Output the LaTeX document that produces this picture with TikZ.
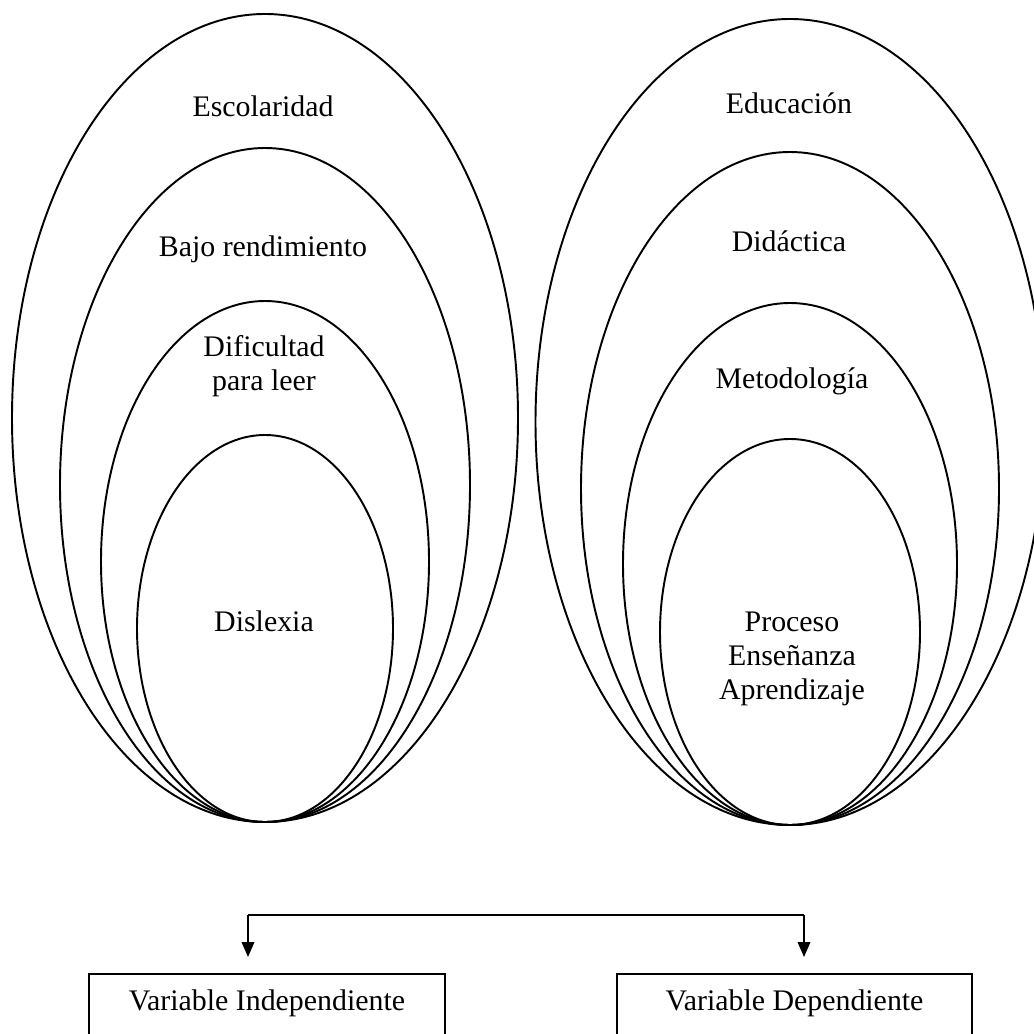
\documentclass[tikz,border=0pt]{standalone}
\usepackage{fontspec}
\setmainfont{Liberation Serif}
\usetikzlibrary{arrows.meta}
\begin{document}
\begin{tikzpicture}[x=0.02cm,y=-0.02cm,line width=1.1pt,
  lbl/.style={font=\fontsize{17}{20}\selectfont,inner sep=0pt,anchor=base},
  varbox/.style={draw,rectangle,inner sep=0pt,anchor=base,
    font=\fontsize{17}{20}\selectfont,text height=0.72cm,text depth=1.4cm},
  arr/.style={-{Triangle[length=0.3cm,width=0.25cm]},shorten >=0.32cm}]
\useasboundingbox (0,0) rectangle (1034,1034);
\clip (0,0) rectangle (1034,1034);
% left set
\draw (265,418) ellipse [x radius=253,y radius=404];
\draw (265,485) ellipse [x radius=205,y radius=337];
\draw (265,561.5) ellipse [x radius=164,y radius=260.5];
\draw (265,628.5) ellipse [x radius=128,y radius=193.5];
\node[lbl] (esc) at (263,116) {Escolaridad};
\node[lbl] (bajo) at (263,256) {Bajo rendimiento};
\node[lbl] (dif1) at (264,356) {Dificultad};
\node[lbl] (dif2) at (264,390) {para leer};
\node[lbl] (dis) at (264,631) {Dislexia};
% right set
\draw (790,422) ellipse [x radius=254.5,y radius=403];
\draw (790,488.5) ellipse [x radius=209,y radius=336.5];
\draw (790,564) ellipse [x radius=167,y radius=261];
\draw (790,632) ellipse [x radius=130,y radius=193];
\node[lbl] (edu) at (789,113) {Educación};
\node[lbl] (did) at (789,251) {Didáctica};
\node[lbl] (met) at (792,388) {Metodología};
\node[lbl] (pro1) at (792,631) {Proceso};
\node[lbl] (pro2) at (792,665) {Enseñanza};
\node[lbl] (pro3) at (792,699) {Aprendizaje};
% bottom
\node[varbox,minimum width=7.12cm] (vi) at (267,1010) {Variable Independiente};
\node[varbox,minimum width=7.1cm] (vd) at (794.5,1010) {Variable Dependiente};
\coordinate (jl) at (248,915);
\coordinate (jr) at (804,915);
\draw (jl) -- (jr);
\draw[arr] (jl) -- (jl |- vi.north);
\draw[arr] (jr) -- (jr |- vd.north);
\end{tikzpicture}
\end{document}
